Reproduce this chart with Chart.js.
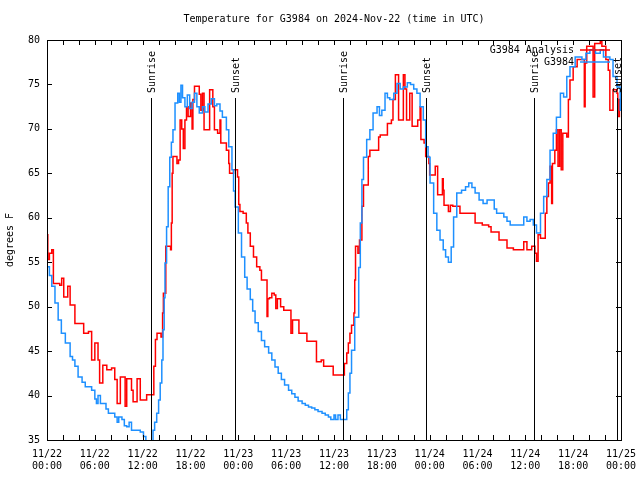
<!DOCTYPE html>
<html>
<head>
<meta charset="utf-8">
<script src="https://cdn.jsdelivr.net/npm/chart.js@4.4.1/dist/chart.umd.min.js"></script>
<style>
  html, body { margin: 0; padding: 0; background: #fff; }
  canvas { display: block; }
</style>
</head>
<body>
<canvas id="chart" width="640" height="480"></canvas>
<script>
// hours since 11/22 00:00 UTC
const anaHours = [0, 0.1, 0.3, 0.6, 0.8, 1.6, 1.84, 2.1, 2.6, 2.9, 3.5, 4.6, 5.2, 5.6, 6.0, 6.4, 6.6, 7.0, 7.5, 8.1,
  8.5, 8.8, 9.2, 9.8, 10.0, 10.6, 10.8, 11.3, 11.7, 12.5, 13.4, 13.6, 13.8, 14.3, 14.5, 14.6, 14.9, 15.5, 15.6, 15.7,
  15.8, 16.3, 16.5, 16.7, 16.9, 17.1, 17.3, 17.5, 17.7, 18.0, 18.2, 18.3, 18.5, 19.1, 19.3, 19.5, 19.7, 20.2, 20.4, 20.8,
  21.0, 21.4, 21.7, 21.8, 22.5, 22.8, 22.9, 23.4, 23.9, 24.05, 24.2, 24.6, 25.0, 25.2, 25.5, 25.9, 26.3, 26.7, 26.9, 27.6,
  27.7, 27.9, 28.2, 28.5, 28.7, 28.9, 29.3, 29.7, 30.6, 30.8, 31.6, 32.6, 33.8, 34.4, 34.7, 35.9, 37.3, 37.6, 37.8, 38.0,
  38.2, 38.5, 38.6, 38.7, 39.0, 39.2, 39.5, 39.7, 40.3, 40.5, 41.6, 41.8, 42.7, 43.2, 43.4, 43.7, 44.1, 44.7, 44.9, 45.1,
  45.5, 45.8, 46.5, 46.8, 46.9, 47.3, 47.5, 47.9, 48.0, 48.7, 49.0, 49.6, 49.7, 49.8, 50.35, 50.6, 50.9, 51.8, 53.7, 54.6,
  55.4, 55.7, 56.7, 57.7, 58.5, 59.6, 59.8, 60.2, 60.8, 61.2, 61.4, 61.6, 61.9, 62.5, 62.7, 62.9, 63.1, 63.3, 63.4, 63.7,
  63.9, 64.1, 64.3, 64.5, 64.7, 65.2, 65.4, 65.6, 66.0, 66.5, 67.3, 67.4, 67.5, 67.7, 68.4, 68.5, 68.7, 69.4, 69.6, 70.1,
  70.4, 70.6, 71.0, 71.5, 71.6, 71.8, 72.0];
const anaTemps = [58.1, 55.3, 56.0, 56.4, 52.6, 52.4, 53.2, 51.1, 52.3, 50.2, 48.1, 47.0, 47.2, 44.0, 45.9, 44.0, 41.4, 43.4, 42.9, 43.1,
  41.8, 39.1, 42.1, 38.8, 41.9, 40.6, 39.3, 41.9, 39.5, 40.1, 43.3, 46.3, 47.0, 46.6, 49.3, 51.5, 56.8, 56.4, 59.4, 65.0,
  66.9, 66.1, 66.5, 71.0, 70.0, 67.8, 71.0, 72.5, 71.4, 72.9, 70.0, 73.3, 74.8, 73.9, 72.1, 74.0, 69.9, 69.9, 74.4, 72.5,
  69.9, 69.5, 71.0, 68.4, 67.6, 66.1, 65.0, 65.4, 64.6, 61.5, 60.7, 60.5, 59.4, 58.3, 56.8, 55.6, 54.5, 54.1, 53.0, 48.9,
  50.9, 51.0, 51.5, 51.3, 49.8, 50.9, 50.0, 49.6, 47.0, 48.5, 47.0, 46.1, 43.8, 44.0, 43.3, 42.3, 43.6, 44.8, 45.9, 47.0,
  47.9, 49.3, 53.0, 56.8, 56.0, 57.5, 61.3, 63.7, 66.9, 67.6, 69.1, 69.3, 70.6, 71.0, 73.3, 76.1, 71.0, 76.1, 74.5, 71.0,
  74.0, 70.3, 71.0, 72.5, 68.8, 68.4, 66.9, 66.1, 64.8, 65.8, 62.6, 64.4, 63.1, 61.4, 60.7, 61.4, 61.3, 60.5, 59.4, 59.2,
  59.0, 58.4, 57.5, 56.6, 56.4, 56.4, 57.3, 56.4, 56.8, 56.0, 55.1, 58.1, 57.7, 60.5, 62.4, 63.9, 65.8, 61.6, 66.1, 67.6,
  69.9, 65.8, 69.9, 65.4, 69.5, 69.1, 73.3, 75.5, 77.0, 77.8, 77.8, 72.5, 77.4, 79.3, 79.3, 73.6, 79.6, 79.8, 79.3, 77.8,
  76.6, 72.1, 74.4, 74.0, 71.4, 73.3, 73.3];

const obsHours = [0, 0.3, 0.6, 1.0, 1.4, 1.8, 2.3, 2.9, 3.2, 3.5, 3.9, 4.4, 4.8, 5.6, 6.0, 6.2, 6.4, 6.7, 7.4, 7.7,
  8.5, 8.8, 9.0, 9.4, 9.7, 10.0, 10.3, 10.6, 11.7, 12.1, 12.4, 13.3, 13.5, 13.76, 14.0, 14.2, 14.4, 14.55, 14.7, 14.8,
  15.0, 15.2, 15.4, 15.6, 15.8, 16.06, 16.4, 16.6, 16.8, 17.0, 17.3, 17.6, 17.9, 18.2, 18.5, 18.8, 19.1, 19.5, 19.8, 20.2,
  20.6, 21.0, 21.3, 21.7, 22.0, 22.5, 22.8, 23.2, 23.4, 23.6, 24.0, 24.4, 24.8, 25.1, 25.5, 25.8, 26.1, 26.5, 26.9, 27.3,
  27.8, 28.2, 28.6, 29.0, 29.4, 29.8, 30.3, 30.7, 31.1, 31.5, 32.0, 32.4, 32.8, 33.2, 33.6, 34.0, 34.5, 34.9, 35.3, 35.6,
  36.0, 36.2, 36.5, 36.8, 37.6, 37.8, 38.0, 38.2, 38.6, 39.1, 39.3, 39.5, 39.7, 40.1, 40.5, 40.9, 41.4, 41.7, 42.0, 42.4,
  42.7, 43.0, 43.5, 43.9, 44.3, 44.7, 45.2, 45.6, 46.0, 46.4, 46.8, 47.2, 47.5, 47.8, 48.05, 48.5, 48.9, 49.3, 49.7, 50.0,
  50.35, 50.7, 51.0, 51.4, 52.0, 52.5, 52.9, 53.3, 53.7, 54.2, 54.7, 55.2, 56.1, 56.4, 57.3, 57.7, 58.1, 59.4, 59.8, 60.2,
  60.6, 61.0, 61.4, 61.9, 62.3, 62.7, 63.1, 63.5, 63.9, 64.4, 64.8, 65.2, 65.6, 66.25, 67.1, 67.6, 68.1, 68.8, 69.4, 69.8,
  70.6, 71.0, 71.5, 71.9, 72.0];
const obsTemps = [54.5, 53.5, 52.3, 50.4, 48.5, 47.0, 45.9, 44.4, 44.0, 43.3, 42.1, 41.5, 41.0, 40.6, 39.6, 39.1, 40.0, 39.1, 38.5, 38.0,
  37.6, 37.0, 37.6, 37.3, 36.6, 36.5, 37.0, 36.1, 35.9, 35.4, 34.6, 36.1, 37.0, 38.0, 39.5, 41.4, 44.0, 47.4, 51.0, 54.9,
  59.0, 63.5, 66.8, 68.5, 69.9, 72.9, 74.0, 73.0, 74.9, 73.5, 72.5, 73.8, 72.3, 73.0, 74.0, 72.5, 71.8, 72.5, 71.9, 72.8,
  73.4, 72.6, 72.8, 72.0, 71.3, 69.9, 68.0, 65.4, 63.0, 61.2, 58.3, 55.6, 53.3, 52.0, 50.8, 49.5, 48.2, 47.2, 46.2, 45.5,
  44.8, 44.0, 43.2, 42.5, 41.8, 41.2, 40.6, 40.2, 39.8, 39.4, 39.1, 38.9, 38.7, 38.6, 38.4, 38.2, 38.0, 37.8, 37.6, 37.3,
  37.8, 37.3, 37.8, 37.3, 38.4, 40.3, 42.5, 45.1, 48.8, 54.4, 59.4, 64.3, 66.8, 68.8, 69.9, 71.8, 72.5, 71.5, 72.1, 74.0,
  73.5, 73.3, 74.0, 75.1, 74.5, 74.7, 75.2, 75.0, 74.5, 74.0, 72.5, 71.0, 68.0, 66.8, 63.9, 60.5, 58.6, 57.5, 56.4, 55.6,
  55.0, 56.7, 60.1, 62.8, 63.1, 63.5, 63.9, 63.4, 62.8, 62.0, 61.6, 62.0, 61.0, 60.5, 60.1, 59.6, 59.2, 59.2, 60.1, 59.6,
  59.8, 59.2, 58.3, 60.5, 62.4, 64.3, 67.6, 69.5, 71.3, 74.0, 73.6, 75.9, 77.0, 78.1, 77.8, 78.5, 78.9, 78.5, 78.9, 78.1,
  77.8, 75.9, 74.7, 72.1, 72.1];

const sunHours = [13.05, 23.58, 37.17, 47.5, 61.13, 71.54];
const sunLabels = ['Sunrise', 'Sunset', 'Sunrise', 'Sunset', 'Sunrise', 'Sunset'];

const xTickDates = ['11/22', '11/22', '11/22', '11/22', '11/23', '11/23', '11/23', '11/23', '11/24', '11/24', '11/24', '11/24', '11/25'];
const xTickTimes = ['00:00', '06:00', '12:00', '18:00', '00:00', '06:00', '12:00', '18:00', '00:00', '06:00', '12:00', '18:00', '00:00'];

const titleText = 'Temperature for G3984 on 2024-Nov-22 (time in UTC)';

const FONT = "'DejaVu Sans Mono', 'Liberation Mono', monospace";
const RED = '#ff0000';
const BLUE = '#1e90ff';

function pts(hours, temps) {
  return hours.map((h, i) => ({ x: h, y: temps[i] }));
}

// frame, inward ticks, sunrise/sunset markers, legend and title, gnuplot style
const decorations = {
  id: 'decorations',
  afterDatasetsDraw(chart) {
    const ctx = chart.ctx;
    const a = chart.chartArea;
    const xs = chart.scales.x;
    const ys = chart.scales.y;
    ctx.save();
    ctx.strokeStyle = '#000';
    ctx.lineWidth = 1;

    // ticks
    ctx.beginPath();
    for (let h = 0; h <= 72; h += 2) {
      const px = Math.round(xs.getPixelForValue(h)) + 0.5;
      ctx.moveTo(px, a.bottom); ctx.lineTo(px, a.bottom - 5);
      ctx.moveTo(px, a.top); ctx.lineTo(px, a.top + 5);
    }
    for (let t = 35; t <= 80; t += 5) {
      const py = Math.round(ys.getPixelForValue(t)) + 0.5;
      ctx.moveTo(a.left, py); ctx.lineTo(a.left + 5, py);
      ctx.moveTo(a.right, py); ctx.lineTo(a.right - 5, py);
    }
    ctx.stroke();

    // sunrise / sunset lines
    ctx.font = '10px ' + FONT;
    ctx.fillStyle = '#000';
    const lineTop = a.bottom - 0.855 * (a.bottom - a.top);
    sunHours.forEach((h, i) => {
      const px = Math.round(xs.getPixelForValue(h)) + 0.5;
      ctx.beginPath();
      ctx.moveTo(px, lineTop);
      ctx.lineTo(px, a.bottom);
      ctx.stroke();
      ctx.save();
      ctx.translate(px + 1, lineTop - 5);
      ctx.rotate(-Math.PI / 2);
      ctx.textAlign = 'left';
      ctx.textBaseline = 'middle';
      ctx.fillText(sunLabels[i], 0, 0);
      ctx.restore();
    });

    // legend
    ctx.textAlign = 'right';
    ctx.textBaseline = 'middle';
    const legend = [chart.data.datasets[1], chart.data.datasets[0]];
    legend.forEach((ds, i) => {
      const py = a.top + 10 + i * 12;
      ctx.fillStyle = '#000';
      ctx.fillText(ds.label, a.right - 47, py);
      ctx.strokeStyle = ds.borderColor;
      ctx.lineWidth = 1.5;
      ctx.beginPath();
      ctx.moveTo(a.right - 41, py);
      ctx.lineTo(a.right - 11, py);
      ctx.stroke();
    });

    // border
    ctx.strokeStyle = '#000';
    ctx.lineWidth = 1;
    ctx.strokeRect(Math.round(a.left) + 0.5, Math.round(a.top) + 0.5,
      Math.round(a.right - a.left), Math.round(a.bottom - a.top));

    // title, centred over the plot area
    ctx.fillStyle = '#000';
    ctx.textAlign = 'center';
    ctx.textBaseline = 'middle';
    ctx.fillText(titleText, (a.left + a.right) / 2, 19);
    ctx.restore();
  }
};

new Chart(document.getElementById('chart'), {
  type: 'line',
  data: {
    datasets: [
      {
        label: 'G3984',
        data: pts(obsHours, obsTemps),
        borderColor: BLUE,
        borderWidth: 1.5,
        pointRadius: 0,
        stepped: true,
        fill: false,
        order: 1
      },
      {
        label: 'G3984 Analysis',
        data: pts(anaHours, anaTemps),
        borderColor: RED,
        borderWidth: 1.5,
        pointRadius: 0,
        stepped: true,
        fill: false,
        order: 2
      }
    ]
  },
  options: {
    responsive: false,
    animation: false,
    layout: { padding: { left: 0, right: 19, top: 40, bottom: 0 } },
    plugins: {
      legend: { display: false },
      tooltip: { enabled: false },
      title: { display: false }
    },
    scales: {
      x: {
        type: 'linear',
        min: 0,
        max: 72,
        afterFit(scale) {
          scale.height = 40;
          scale.paddingLeft = 0;
          scale.paddingRight = 0;
        },
        grid: { display: false, drawTicks: false },
        border: { display: false },
        ticks: {
          stepSize: 6,
          autoSkip: false,
          maxRotation: 0,
          padding: 8,
          color: '#000',
          font: { family: FONT, size: 10 },
          callback: (v) => {
            const i = Math.round(v / 6);
            return [xTickDates[i], xTickTimes[i]];
          }
        }
      },
      y: {
        min: 35,
        max: 80,
        afterFit(scale) {
          scale.width = 47;
          scale.paddingTop = 0;
          scale.paddingBottom = 0;
        },
        grid: { display: false, drawTicks: false },
        border: { display: false },
        ticks: {
          stepSize: 5,
          padding: 7,
          color: '#000',
          font: { family: FONT, size: 10 }
        },
        title: {
          display: true,
          text: 'degrees F',
          color: '#000',
          font: { family: FONT, size: 10 },
          padding: { top: 4, bottom: 0 }
        }
      }
    }
  },
  plugins: [decorations]
});
</script>
</body>
</html>
